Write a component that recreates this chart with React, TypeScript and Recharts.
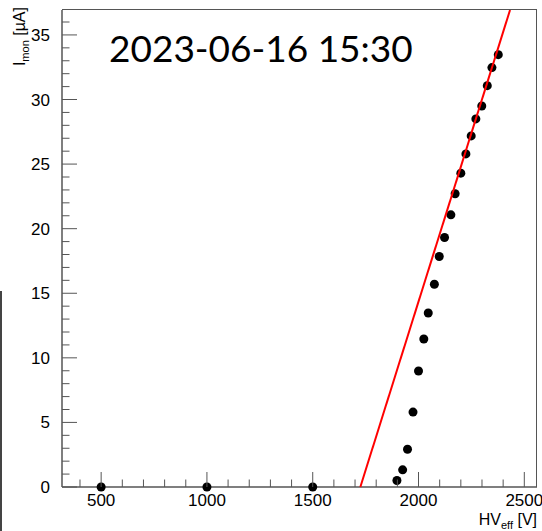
import React from "react"
import { ScatterChart, Scatter, XAxis, YAxis } from "recharts"

// HV scan: effective voltage [V] vs monitored current [uA]
const hvValues = [500, 1000, 1500, 1898, 1925, 1948, 1974, 2000, 2025, 2046, 2075, 2098, 2123, 2153, 2173, 2200, 2224, 2249, 2271, 2299, 2325, 2347, 2377]
const imonValues = [0, 0, 0, 0.5, 1.33, 2.92, 5.8, 8.98, 11.46, 13.47, 15.7, 17.85, 19.32, 21.07, 22.7, 24.3, 25.79, 27.18, 28.5, 29.5, 31.07, 32.47, 33.47]

// linear fit: I = slope * (V - threshold)
const fitThreshold = 1725
const fitSlope = 0.0522

const xDomain = [315, 2560]
const yDomain = [0, 36.93]
const xTicks = [400, 500, 600, 700, 800, 900, 1000, 1100, 1200, 1300, 1400, 1500, 1600, 1700, 1800, 1900, 2000, 2100, 2200, 2300, 2400, 2500]
const yTicks = Array.from({ length: 37 }, (_, i) => i)

const title = "2023-06-16 15:30"

const points = hvValues.map((hv, i) => ({ hv, imon: imonValues[i] }))
const fitLine = [
  { hv: fitThreshold, imon: 0 },
  { hv: fitThreshold + yDomain[1] / fitSlope, imon: yDomain[1] },
]

const tickFont = "'Liberation Sans', Arial, sans-serif"
const axisColor = "#555"

const XTick = ({ x, y, payload }: any) => {
  const major = payload.value % 500 === 0
  return (
    <g>
      <line x1={x} x2={x} y1={y} y2={y - (major ? 15 : 7.5)} stroke={axisColor} strokeWidth={1} />
      {major && (
        <text x={x} y={y + 19} textAnchor="middle" fontSize={17} fontFamily={tickFont} fill="#000">
          {payload.value}
        </text>
      )}
    </g>
  )
}

const YTick = ({ x, y, payload }: any) => {
  const major = payload.value % 5 === 0
  return (
    <g>
      <line x1={x} x2={x + (major ? 15 : 7.5)} y1={y} y2={y} stroke={axisColor} strokeWidth={1} />
      {major && (
        <text x={x - 12} y={y + 6} textAnchor="end" fontSize={17} fontFamily={tickFont} fill="#000">
          {payload.value}
        </text>
      )}
    </g>
  )
}

const Dot = ({ cx, cy }: any) => <circle cx={cx} cy={cy} r={4.5} fill="#000" />

export default function App() {
  return (
    <div style={{ position: "absolute", left: 0, top: 0, width: 542, height: 531, background: "#fff", overflow: "hidden" }}>
      <ScatterChart width={542} height={531} margin={{ top: 10, right: 5, left: 0, bottom: 0 }}>
        <XAxis
          type="number"
          dataKey="hv"
          domain={xDomain}
          ticks={xTicks}
          interval={0}
          height={44}
          tickSize={0}
          tickMargin={0}
          tick={<XTick />}
          axisLine={{ stroke: axisColor, strokeWidth: 1.5 }}
        />
        <YAxis
          type="number"
          dataKey="imon"
          domain={yDomain}
          ticks={yTicks}
          interval={0}
          width={62}
          tickSize={0}
          tickMargin={0}
          tick={<YTick />}
          axisLine={{ stroke: axisColor, strokeWidth: 1.5 }}
        />
        <Scatter data={points} shape={<Dot />} isAnimationActive={false} />
        <Scatter data={fitLine} line={{ stroke: "#ff0000", strokeWidth: 2 }} shape={() => <g />} isAnimationActive={false} />
      </ScatterChart>

      {/* frame: top and right edges */}
      <div style={{ position: "absolute", left: 62, top: 9, width: 475, height: 478, borderTop: `1.5px solid ${axisColor}`, borderRight: `1.5px solid ${axisColor}`, boxSizing: "border-box", pointerEvents: "none" }} />

      {/* stray border at the left edge of the picture */}
      <div style={{ position: "absolute", left: 0, top: 291, width: 2, height: 240, background: "#444" }} />

      <div style={{ position: "absolute", left: 109, top: 20, fontFamily: "Lato, sans-serif", fontSize: 37, lineHeight: "56px", color: "#000", whiteSpace: "nowrap" }}>
        {title}
      </div>

      <svg width={542} height={531} style={{ position: "absolute", left: 0, top: 0, pointerEvents: "none" }}>
        <text x={537} y={525} textAnchor="end" fontSize={16} fontFamily={tickFont} fill="#000">
          HV<tspan dy={4} fontSize={11}>eff</tspan><tspan dy={-4} fontSize={16}> [V]</tspan>
        </text>
        <text transform="rotate(-90)" x={-7} y={25} textAnchor="end" fontSize={16} fontFamily={tickFont} fill="#000">
          I<tspan dy={4} fontSize={11}>mon</tspan><tspan dy={-4} fontSize={16}> [µA]</tspan>
        </text>
      </svg>
    </div>
  )
}
